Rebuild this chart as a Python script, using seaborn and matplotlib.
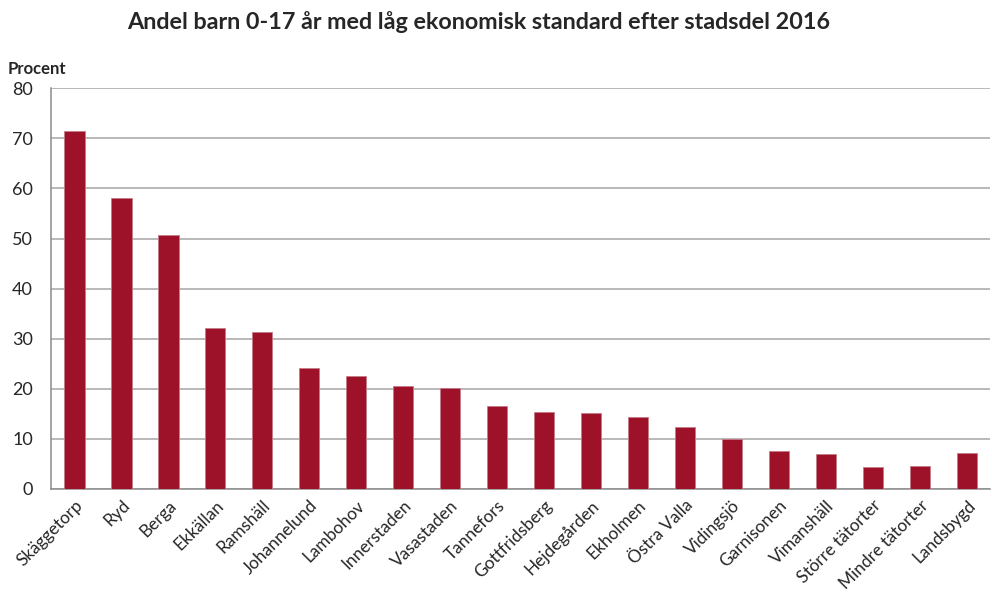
import pandas as pd
import seaborn as sns
import matplotlib.pyplot as plt

# Andel barn 0-17 år med låg ekonomisk standard, per stadsdel 2016
stadsdelar = ['Skäggetorp', 'Ryd', 'Berga', 'Ekkällan', 'Ramshäll', 'Johannelund',
              'Lambohov', 'Innerstaden', 'Vasastaden', 'Tannefors', 'Gottfridsberg',
              'Hejdegården', 'Ekholmen', 'Östra Valla', 'Vidingsjö', 'Garnisonen',
              'Vimanshäll', 'Större tätorter', 'Mindre tätorter', 'Landsbygd']
andel = [71.4, 58.0, 50.6, 32.2, 31.3, 24.2, 22.6, 20.6, 20.1, 16.6,
         15.3, 15.1, 14.4, 12.3, 9.9, 7.5, 6.9, 4.3, 4.6, 7.2]
yticks = [0, 10, 20, 30, 40, 50, 60, 70, 80]

df = pd.DataFrame({'stadsdel': stadsdelar, 'andel': andel})

sns.set_style('white')
plt.rcParams['font.family'] = ['Lato', 'DejaVu Sans']

fig = plt.figure(figsize=(9.92, 5.92), dpi=100)
ax = fig.add_axes([0.0514, 0.174, 0.947, 0.677])

sns.barplot(data=df, x='stadsdel', y='andel', color='#9D1229', saturation=1,
            width=0.43, edgecolor='#C77A88', linewidth=0.6, ax=ax, zorder=3)

ax.set_ylim(0, 80)
ax.set_xlim(-0.5, len(stadsdelar) - 0.5)
ax.set_yticks(yticks)
ax.yaxis.grid(True, color='#A6A6A6', linewidth=1.1, zorder=0)
ax.set_axisbelow(True)

for side in ['top', 'right']:
    ax.spines[side].set_visible(False)
for side in ['left', 'bottom']:
    ax.spines[side].set_color('#8C8C8C')
    ax.spines[side].set_linewidth(1.1)

# tickmarks mellan kategorierna, som i Excel
ax.set_xticks(range(len(stadsdelar)))
ax.set_xticklabels(stadsdelar, rotation=45, ha='right', rotation_mode='anchor', fontsize=12.4)
ax.tick_params(axis='x', length=0, pad=6)
ax.set_xticks([i - 0.5 for i in range(len(stadsdelar) + 1)], minor=True)
ax.tick_params(axis='x', which='minor', length=5, color='#8C8C8C', width=1.1, direction='out')
ax.tick_params(axis='y', length=5, color='#8C8C8C', width=1.1, labelsize=13, pad=8)
ax.set_xlabel('')
ax.set_ylabel('')

fig.text(0.008, 0.883, 'Procent', fontsize=12, fontweight='bold', ha='left', va='center')
fig.text(0.482, 0.963, 'Andel barn 0-17 år med låg ekonomisk standard efter stadsdel 2016',
         fontsize=16.8, fontweight='bold', ha='center', va='center')

fig.savefig('out.png', dpi=100)
